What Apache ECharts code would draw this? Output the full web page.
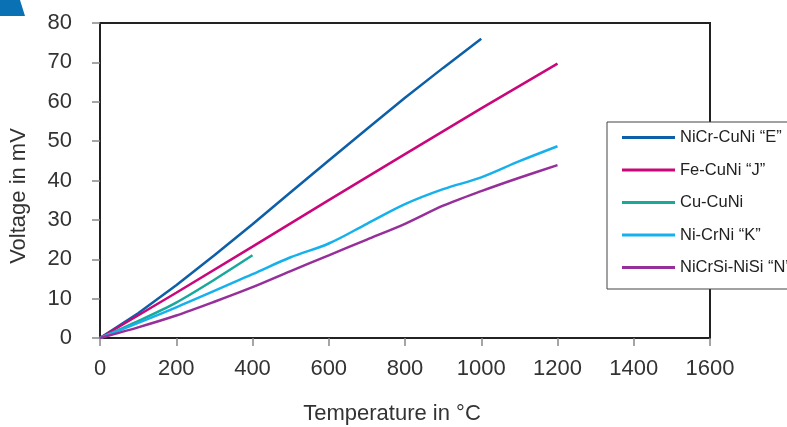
<!DOCTYPE html>
<html>
<head>
<meta charset="utf-8">
<script src="https://cdn.jsdelivr.net/npm/echarts@6/dist/echarts.min.js"></script>
<style>html,body{margin:0;padding:0;background:#fff;}#c{width:787px;height:427px;}</style>
</head>
<body>
<div id="c"></div>
<script>
var xTicks = [0, 200, 400, 600, 800, 1000, 1200, 1400, 1600];
var yTicks = [0, 10, 20, 30, 40, 50, 60, 70, 80];

var seriesNames = ['NiCr-CuNi \u201cE\u201d', 'Fe-CuNi \u201cJ\u201d', 'Cu-CuNi', 'Ni-CrNi \u201cK\u201d', 'NiCrSi-NiSi \u201cN\u201d'];

var tempE = [0, 100, 200, 300, 400, 500, 600, 700, 800, 900, 1000];
var voltE = [0, 6.3, 13.4, 21.0, 28.9, 37.0, 45.1, 53.1, 61.0, 68.6, 76.0];

var tempJ = [0, 200, 400, 600, 800, 1000, 1200];
var voltJ = [0, 11.5, 23.2, 35.0, 46.7, 58.3, 69.7];

var tempT = [0, 100, 200, 300, 400];
var voltT = [0, 4.3, 9.0, 14.8, 21.0];

var tempK = [0, 200, 400, 500, 600, 700, 800, 900, 1000, 1100, 1200];
var voltK = [0, 7.8, 16.2, 20.5, 24.0, 29.0, 34.0, 37.8, 40.8, 44.9, 48.7];

var tempN = [0, 100, 200, 300, 400, 500, 600, 700, 800, 900, 1000, 1100, 1200];
var voltN = [0, 2.7, 5.7, 9.2, 12.9, 17.0, 21.0, 25.0, 29.0, 33.6, 37.3, 40.7, 43.9];

var colors = ['#0d5fa8', '#c9077a', '#19a89c', '#16b1ec', '#972f9a'];
var smoothing = [false, false, 0.2, 0.35, 0.3];

function pairs(t, v) { return t.map(function (x, i) { return [x, v[i]]; }); }
var allData = [pairs(tempE, voltE), pairs(tempJ, voltJ), pairs(tempT, voltT), pairs(tempK, voltK), pairs(tempN, voltN)];

var FONT = 'Liberation Sans, Arial, Helvetica, sans-serif';
var chart = echarts.init(document.getElementById('c'), null, {renderer: 'canvas'});

chart.setOption({
  animation: false,
  backgroundColor: '#fff',
  grid: {left: 100, top: 23, right: 77, bottom: 89, show: true, borderColor: '#222', borderWidth: 2, backgroundColor: 'transparent'},
  xAxis: {
    type: 'value', min: 0, max: 1600, interval: 200,
    axisLine: {show: true, lineStyle: {color: '#222', width: 2}},
    axisTick: {show: true, length: 8, lineStyle: {color: '#888', width: 1.5}},
    axisLabel: {margin: 20, fontSize: 22, color: '#333', fontFamily: FONT,
      formatter: function (v) { return xTicks.indexOf(v) >= 0 ? String(v) : ''; }},
    splitLine: {show: false}
  },
  yAxis: {
    type: 'value', min: 0, max: 80, interval: 10,
    axisLine: {show: true, lineStyle: {color: '#222', width: 2}},
    axisTick: {show: true, length: 8, lineStyle: {color: '#888', width: 1.5}},
    axisLabel: {margin: 28, fontSize: 22, color: '#333', fontFamily: FONT,
      formatter: function (v) { return yTicks.indexOf(v) >= 0 ? String(v) : ''; }},
    splitLine: {show: false}
  },
  legend: {
    orient: 'vertical', left: 607, top: 122,
    padding: [6, 15, 12, 15],
    backgroundColor: '#fff', borderColor: '#444', borderWidth: 1,
    itemWidth: 53, itemHeight: 3, itemGap: 13.5, icon: 'rect',
    textStyle: {fontSize: 16.5, color: '#222', fontFamily: FONT, lineHeight: 19},
    data: seriesNames, z: 10
  },
  series: seriesNames.map(function (n, i) {
    return {
      name: n, type: 'line', data: allData[i], showSymbol: false, symbol: 'none',
      smooth: smoothing[i], lineStyle: {width: 2.5, color: colors[i]}, itemStyle: {color: colors[i]}
    };
  }),
  graphic: [
    {type: 'polygon', shape: {points: [[0, 0], [20, 0], [25, 16], [0, 16]]}, style: {fill: '#0a71b5'}},
    {type: 'text', x: 392, y: 414, style: {text: 'Temperature in \u00b0C', fontSize: 22, fontFamily: FONT, fill: '#333', align: 'center', verticalAlign: 'middle'}},
    {type: 'text', x: 19, y: 196, rotation: Math.PI / 2, style: {text: 'Voltage in mV', fontSize: 22, fontFamily: FONT, fill: '#333', align: 'center', verticalAlign: 'middle'}}
  ]
});
</script>
</body>
</html>
